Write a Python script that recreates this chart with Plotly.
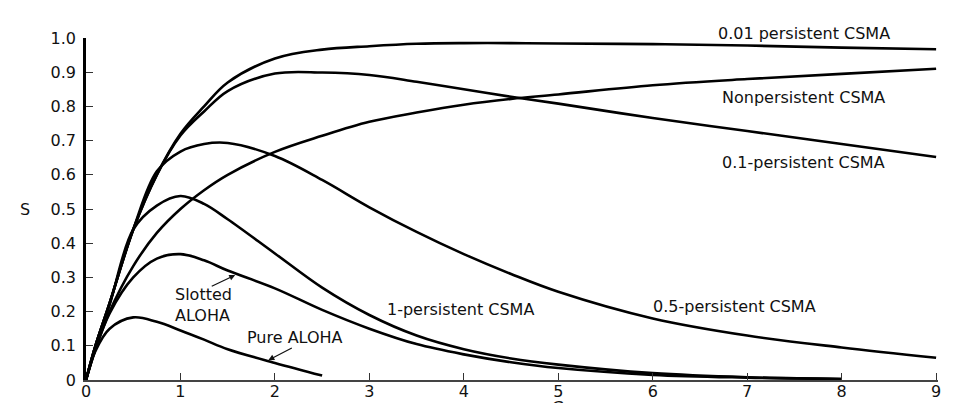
import plotly.graph_objects as go

# Offered load G (attempts per packet time)
g_full = [0, 0.1, 0.25, 0.5, 0.75, 1, 1.25, 1.5, 2, 2.5, 3, 3.5, 4, 4.5, 5, 6, 7, 8, 9]
g_to8 = [0, 0.1, 0.25, 0.5, 0.75, 1, 1.25, 1.5, 2, 2.5, 3, 3.5, 4, 4.5, 5, 6, 7, 8]
g_pure = [0, 0.1, 0.25, 0.5, 0.75, 1, 1.25, 1.5, 2, 2.5]

# Throughput S per packet time for each protocol
s_001_persistent = [0, 0.1, 0.225, 0.44, 0.6, 0.72, 0.8, 0.87, 0.94, 0.966, 0.976,
                    0.983, 0.985, 0.985, 0.984, 0.982, 0.978, 0.972, 0.967]
s_nonpersistent = [0, 0.09, 0.2, 0.333, 0.43, 0.5, 0.555, 0.6, 0.667, 0.714, 0.755,
                   0.782, 0.805, 0.822, 0.835, 0.862, 0.88, 0.895, 0.91]
s_01_persistent = [0, 0.1, 0.225, 0.44, 0.6, 0.715, 0.785, 0.845, 0.896, 0.899, 0.892,
                   0.872, 0.85, 0.828, 0.808, 0.766, 0.728, 0.69, 0.652]
s_05_persistent = [0, 0.1, 0.225, 0.44, 0.61, 0.668, 0.69, 0.693, 0.655, 0.585, 0.505,
                   0.433, 0.368, 0.31, 0.258, 0.18, 0.13, 0.095, 0.065]
s_1_persistent = [0, 0.1, 0.22, 0.44, 0.51, 0.538, 0.515, 0.47, 0.37, 0.27, 0.19,
                  0.13, 0.09, 0.063, 0.045, 0.02, 0.008, 0.003]
s_slotted = [0, 0.09, 0.195, 0.3, 0.355, 0.368, 0.35, 0.32, 0.268, 0.205, 0.15,
             0.105, 0.075, 0.052, 0.035, 0.015, 0.007, 0.003]
s_pure = [0, 0.085, 0.15, 0.183, 0.17, 0.145, 0.118, 0.09, 0.05, 0.013]

y_ticks = [0, 0.1, 0.2, 0.3, 0.4, 0.5, 0.6, 0.7, 0.8, 0.9, 1.0]
y_tick_text = ["0", "0.1", "0.2", "0.3", "0.4", "0.5", "0.6", "0.7", "0.8", "0.9", "1.0"]
x_ticks = [0, 1, 2, 3, 4, 5, 6, 7, 8, 9]

curves = [
    (g_full, s_001_persistent),
    (g_full, s_nonpersistent),
    (g_full, s_01_persistent),
    (g_full, s_05_persistent),
    (g_to8, s_1_persistent),
    (g_to8, s_slotted),
    (g_pure, s_pure),
]

FONT = "DejaVu Sans"
INK = "#111111"

fig = go.Figure()
for gx, sy in curves:
    fig.add_trace(go.Scatter(
        x=gx, y=sy, mode="lines",
        line=dict(color="black", width=2.6, shape="spline", smoothing=1.0),
        hoverinfo="skip", showlegend=False,
    ))

# Curve labels
labels = [
    ("Nonpersistent CSMA", 7.6, 0.825),
    ("0.1-persistent CSMA", 7.6, 0.635),
    ("0.5-persistent CSMA", 6.87, 0.214),
    ("1-persistent CSMA", 3.97, 0.205),
    ("Pure ALOHA", 2.21, 0.123),
]
annotations = [dict(
    x=7.6, y=1.0146, xref="x", yref="paper", text="0.01 persistent CSMA",
    showarrow=False, font=dict(family=FONT, size=16, color=INK),
    xanchor="center", yanchor="middle",
)]
for text, lx, ly in labels:
    annotations.append(dict(
        x=lx, y=ly, xref="x", yref="y", text=text, showarrow=False,
        font=dict(family=FONT, size=16, color=INK), xanchor="center", yanchor="middle",
    ))
annotations.append(dict(
    x=1.24, y=0.219, xref="x", yref="y", text="Slotted<br>ALOHA", showarrow=False,
    align="left", font=dict(family=FONT, size=16, color=INK),
    xanchor="center", yanchor="middle",
))
# Pointer arrows to the ALOHA curves
annotations.append(dict(
    x=1.58, y=0.307, xref="x", yref="y", text="", showarrow=True,
    ax=-25, ay=12, arrowhead=2, arrowsize=1, arrowwidth=1.2, arrowcolor=INK,
))
annotations.append(dict(
    x=1.93, y=0.058, xref="x", yref="y", text="", showarrow=True,
    ax=25, ay=-13, arrowhead=2, arrowsize=1, arrowwidth=1.2, arrowcolor=INK,
))
# Axis titles
annotations.append(dict(
    x=-0.0716, y=0.5, xref="paper", yref="paper", text="S", showarrow=False,
    font=dict(family=FONT, size=16, color=INK), xanchor="center", yanchor="middle",
))
annotations.append(dict(
    x=5, y=-0.047, xref="x", yref="paper", text="G", showarrow=False,
    font=dict(family=FONT, size=16, color=INK), xanchor="center", yanchor="top",
))

fig.update_layout(
    width=958, height=403,
    margin=dict(l=86, r=20, t=38, b=23),
    paper_bgcolor="white", plot_bgcolor="white",
    annotations=annotations,
    xaxis=dict(
        range=[0, 9.02], tickvals=x_ticks, ticks="inside", ticklen=7,
        tickcolor="#333", tickwidth=1.2, automargin=False,
        showline=True, linecolor="#444", linewidth=2,
        showgrid=False, zeroline=False, ticklabelstandoff=-4,
        tickfont=dict(family=FONT, size=16, color=INK),
    ),
    yaxis=dict(
        range=[0, 1.0], tickvals=y_ticks, ticktext=y_tick_text,
        ticks="inside", ticklen=7, tickcolor="#333", tickwidth=1.2, automargin=False,
        showline=True, linecolor="black", linewidth=2.5,
        showgrid=False, zeroline=False, ticklabelstandoff=4,
        tickfont=dict(family=FONT, size=16, color=INK),
    ),
)

fig.write_html("out.html")
